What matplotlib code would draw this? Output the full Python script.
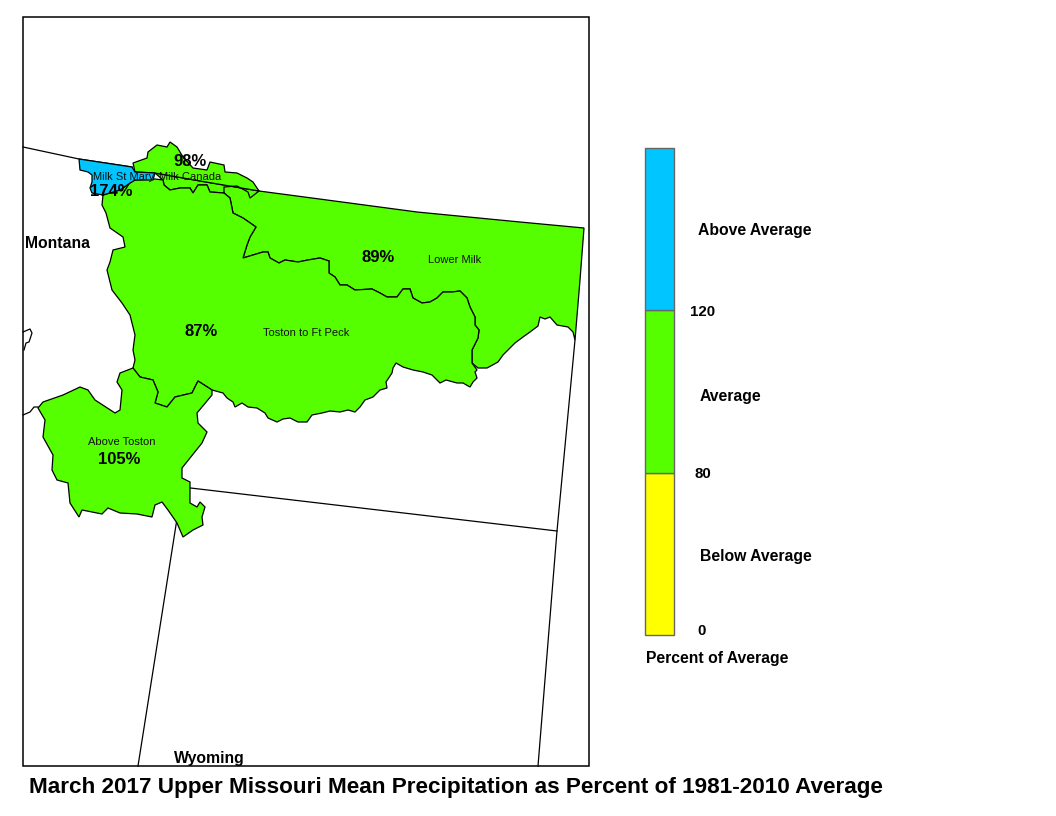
import matplotlib
matplotlib.use("Agg")
import matplotlib.pyplot as plt
from matplotlib.patches import Polygon

plt.rcParams['font.family'] = ['Liberation Sans', 'DejaVu Sans']
W, H = 1056, 816
GREEN, BLUE, YELLOW = '#55ff00', '#00c5ff', '#ffff00'

# Basin outlines (image x, y)
shared_edge = [(472,363),(472,350),(478,338),(479,330),(475,325),(475,317),(470,307),(467,298),(460,291),(452,292),(443,292),(437,298),(430,302),(422,303),(413,298),(410,289),(403,289),(397,297),(387,297),(380,293),(372,289),(355,290),(347,285),(340,285),(335,277),(329,273),(329,261),(320,258),(308,260),(298,262),(285,260),(279,263),(270,258),(268,252),(263,252),(253,255),(243,258),
 (247,245),(250,237),(256,227),(243,218),(233,213),(230,198),(224,193),(210,192),(207,185),(198,185),(193,193),(190,188),(180,188),(170,190),(164,185),(163,180)]
north_border = [(259,191),(327,200),(417,212),(520,222),(584,228)]
lower_milk_south = [(580,280),(575,340),(573,332),(568,327),(557,325),(550,317),(545,319),(540,317),(538,326),(530,332),(523,337),(515,343),(503,355),(498,362),(487,368),(478,368)]
toston_south = [(133,368),(140,377),(153,380),(158,392),(155,403),(167,407),(175,397),(192,393),(198,381),(212,390),(223,393),(227,398),(233,402),(235,407),(242,403),(248,407),(257,408),(265,413),(268,418),(277,422),(283,419),(290,418),(298,422),(307,422),(312,415),(322,413),(330,411),(340,412),(348,410),(355,412),(360,407),(365,400),(373,397),(380,390),(387,388),(386,382),(392,373),(393,368),(396,363),(403,367),(413,370),(423,372),(432,375),(440,383),(446,380),(457,383),(463,383),(470,387),(473,382),(477,378),(475,372),(477,370)]
toston_west = [(103,195),(102,205),(106,213),(110,228),(123,237),(125,247),(113,250),(110,262),(107,270),(112,290),(122,303),(130,315),(135,335),(133,350),(135,360)]
toston_north = [(155,179),(135,180),(130,183),(120,190)]

lower_milk = [(155,173),(200,181)] + north_border + lower_milk_south + shared_edge
toston = toston_west + toston_south + shared_edge + toston_north
above_toston = [(133,368),(120,373),(117,382),(122,390),(120,410),(115,413),(95,400),(88,390),(80,387),(63,395),(43,402),(38,408),(45,420),(43,437),(53,455),(52,470),(57,480),(68,483),(70,503),(79,517),(82,510),(102,514),(108,508),(120,513),(137,514),(152,517),(155,505),(162,502),(168,510),(177,523),(183,537),(193,530),(203,525),(202,517),(205,507),(200,502),(197,507),(190,503),(190,488),(190,482),(182,478),(182,468),(190,458),(202,443),(207,432),(198,423),(197,413),(212,395),(212,390),(198,381),(192,393),(175,397),(167,407),(155,403),(158,392),(153,380),(140,377)]
milk_canada = [(133,163),(147,158),(148,152),(157,145),(167,147),(170,142),(177,147),(183,157),(193,168),(207,170),(210,162),(224,165),(225,172),(237,173),(247,178),(253,182),(259,191),(200,181),(155,173),(135,172)]
milk_st_mary = [(79,159),(132,167),(135,172),(155,173),(153,180),(135,180),(130,183),(120,190),(103,195),(92,193),(90,188),(92,182),(92,175),(88,172),(80,170)]
inner_line = [(224,193),(224,187),(237,186),(248,192),(250,198),(259,191)]

# State lines
state_lines = [
 [(23,147),(79,159),(132,167)],
 [(575,340),(557,531),(538,766)],
 [(182,487),(557,531)],
 [(182,487),(138,766)],
 [(23,415),(30,412),(34,407),(38,407)],
 [(23,332),(30,329),(32,333),(29,342),(26,343),(24,350)],
]

basins = [(lower_milk, GREEN), (toston, GREEN), (above_toston, GREEN), (milk_canada, GREEN), (milk_st_mary, BLUE)]

basin_labels = [("Milk St Mary", 124, 177), ("Milk Canada", 190, 177), ("Lower Milk", 455, 260),
                ("Toston to Ft Peck", 306, 333), ("Above Toston", 122, 442)]
percent_labels = [("98%", 190, 161), ("174%", 111, 191), ("89%", 378, 257), ("87%", 201, 332), ("105%", 119, 460)]
state_labels = [("Montana", 58, 244), ("Wyoming", 209, 758)]

legend_bounds = ["0", "80", "120"]
legend_names = ["Below Average", "Average", "Above Average"]
legend_colors = [YELLOW, GREEN, BLUE]

fig = plt.figure(figsize=(W/100, H/100), dpi=100)
ax = fig.add_axes([0, 0, 1, 1])
ax.set_xlim(0, W); ax.set_ylim(H, 0); ax.axis('off')

for pts, col in basins:
    ax.add_patch(Polygon(pts, closed=True, facecolor=col, edgecolor='black', linewidth=0.9, zorder=2))
ax.plot(*zip(*inner_line), color='black', lw=0.9, zorder=3)
for ln in state_lines:
    ax.plot(*zip(*ln), color='black', lw=0.9, zorder=1)
ax.add_patch(Polygon([(23,17),(589,17),(589,766),(23,766)], closed=True, fill=False, edgecolor='black', lw=1.1, zorder=4))

for s, x, y in basin_labels:
    ax.text(x, y, s, fontsize=8, ha='center', va='center', zorder=5, color='#111111')
for s, x, y in percent_labels:
    ax.text(x, y, s, fontsize=12, fontweight='bold', ha='center', va='center', zorder=5)
for s, x, y in state_labels:
    ax.text(x, y, s, fontsize=11.3, fontweight='bold', ha='center', va='center', zorder=5)

# Legend: three equal bands
bar = fig.add_axes([645/W, 1-635/H, 29/W, (635-148)/H])
bar.bar([0,0,0], [1,1,1], bottom=[0,1,2], width=1, color=legend_colors, edgecolor='#666666', linewidth=1.0, clip_on=False)
bar.set_xlim(-.5,.5); bar.set_ylim(0,3); bar.axis('off')

for s, x, y in zip(legend_bounds, [702, 703, 703], [631, 474, 312]):
    ax.text(x, y, s, fontsize=10.8, fontweight='bold', ha='center', va='center')
for s, x, y in zip(legend_names, [700, 700, 698], [557, 396, 231]):
    ax.text(x, y, s, fontsize=11.3, fontweight='bold', ha='left', va='center')
ax.text(646, 658, "Percent of Average", fontsize=11.3, fontweight='bold', ha='left', va='center')
ax.text(29, 788, "March 2017 Upper Missouri Mean Precipitation as Percent of 1981-2010 Average",
        fontsize=16.2, fontweight='bold', ha='left', va='center')

fig.savefig('out.png', dpi=100, facecolor='white')
